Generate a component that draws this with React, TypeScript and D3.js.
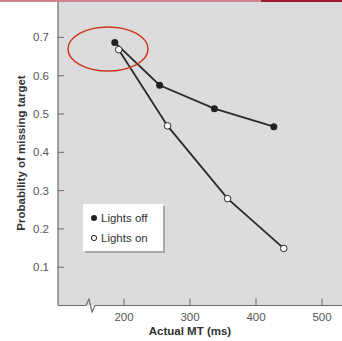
import React, { useEffect, useRef } from 'react';
import * as d3 from 'd3';

const lightsOffMT = [186, 254, 337, 427];
const lightsOffP = [0.687, 0.575, 0.514, 0.467];
const lightsOnMT = [192, 266, 357, 442];
const lightsOnP = [0.668, 0.469, 0.279, 0.149];
const yTicks = [0.1, 0.2, 0.3, 0.4, 0.5, 0.6, 0.7];
const xTicks = [200, 300, 400, 500];
const legendLabels = ['Lights off', 'Lights on'];

const W = 342;
const H = 341;

const App = () => {
  const svgRef = useRef<SVGSVGElement>(null);

  useEffect(() => {
    const svg = d3.select(svgRef.current);
    svg.selectAll('*').remove();

    const left = 58, right = W, top = 2, bottom = 305.5;
    const x = d3.scaleLinear().domain([100, 530]).range([left, left + 430 * 0.66]);
    const y = d3.scaleLinear().domain([0, 0.8]).range([bottom, bottom - 0.8 * 383]);
    const font = 'Liberation Sans, Arial, sans-serif';

    // top banner
    svg.append('rect').attr('x', 0).attr('y', 0).attr('width', 261).attr('height', 2).attr('fill', '#cf8590');
    svg.append('rect').attr('x', 261).attr('y', 0).attr('width', W - 261).attr('height', 2).attr('fill', '#9a1a2c');

    // plot background
    svg.append('rect').attr('x', left).attr('y', top).attr('width', right - left).attr('height', bottom - top)
      .attr('fill', '#dcdcde');

    // left axis
    svg.append('line').attr('x1', left).attr('x2', left).attr('y1', top).attr('y2', bottom)
      .attr('stroke', '#6a6a6a').attr('stroke-width', 1.2);

    yTicks.forEach(t => {
      svg.append('line').attr('x1', left).attr('x2', left + 6).attr('y1', y(t)).attr('y2', y(t))
        .attr('stroke', '#6a6a6a').attr('stroke-width', 1);
      svg.append('text').attr('x', 49).attr('y', y(t) + 4).attr('text-anchor', 'end')
        .attr('font-family', font).attr('font-size', 11.5).attr('fill', '#555').text(t.toFixed(1));
    });

    // bottom axis with break
    svg.append('path')
      .attr('d', `M${left},${bottom} H86 L89,299 L92,312 L95,${bottom} H${right}`)
      .attr('fill', 'none').attr('stroke', '#6a6a6a').attr('stroke-width', 1.2);

    xTicks.forEach(t => {
      svg.append('line').attr('x1', x(t)).attr('x2', x(t)).attr('y1', bottom).attr('y2', bottom - 7)
        .attr('stroke', '#6a6a6a').attr('stroke-width', 1);
      svg.append('text').attr('x', x(t)).attr('y', 321).attr('text-anchor', 'middle')
        .attr('font-family', font).attr('font-size', 11.5).attr('fill', '#555').text(t);
    });

    // axis titles
    svg.append('text').attr('x', 190).attr('y', 335).attr('text-anchor', 'middle')
      .attr('font-family', font).attr('font-size', 11.5).attr('font-weight', 'bold').attr('fill', '#333')
      .text('Actual MT (ms)');
    svg.append('text').attr('transform', 'translate(25,153) rotate(-90)').attr('text-anchor', 'middle')
      .attr('font-family', font).attr('font-size', 11.5).attr('font-weight', 'bold').attr('fill', '#333')
      .text('Probability of missing target');

    const drawSeries = (mt: number[], p: number[]) => {
      const pts = mt.map((m, i) => [x(m), y(p[i])] as [number, number]);
      svg.append('path').attr('d', d3.line()(pts)).attr('fill', 'none')
        .attr('stroke', '#2a2a2a').attr('stroke-width', 1.8);
      return pts;
    };
    const offPts = drawSeries(lightsOffMT, lightsOffP);
    const onPts = drawSeries(lightsOnMT, lightsOnP);
    offPts.forEach(([cx, cy]) => {
      svg.append('circle').attr('cx', cx).attr('cy', cy).attr('r', 3.5).attr('fill', '#222');
    });
    onPts.forEach(([cx, cy]) => {
      svg.append('circle').attr('cx', cx).attr('cy', cy).attr('r', 3.3).attr('fill', '#fff')
        .attr('stroke', '#2a2a2a').attr('stroke-width', 1);
    });

    // red ellipse highlight
    svg.append('ellipse').attr('cx', 108).attr('cy', 49).attr('rx', 40).attr('ry', 22)
      .attr('fill', 'none').attr('stroke', '#cc3a1a').attr('stroke-width', 1.5);

    // legend
    svg.append('rect').attr('x', 85).attr('y', 206).attr('width', 80).attr('height', 47).attr('fill', '#a8a8aa');
    svg.append('rect').attr('x', 83).attr('y', 204).attr('width', 80).attr('height', 47).attr('fill', '#fff');
    legendLabels.forEach((lab, i) => {
      const ly = 218 + i * 20;
      svg.append('circle').attr('cx', 94).attr('cy', ly).attr('r', i === 0 ? 3 : 2.6)
        .attr('fill', i === 0 ? '#222' : '#fff').attr('stroke', '#222').attr('stroke-width', i === 0 ? 0 : 1);
      svg.append('text').attr('x', 101).attr('y', ly + 4).attr('font-family', font).attr('font-size', 11.5)
        .attr('fill', '#333').text(lab);
    });
  }, []);

  return (
    <svg ref={svgRef} width={W} height={H} style={{ position: 'absolute', left: 0, top: 0 }} />
  );
};

export default App;
